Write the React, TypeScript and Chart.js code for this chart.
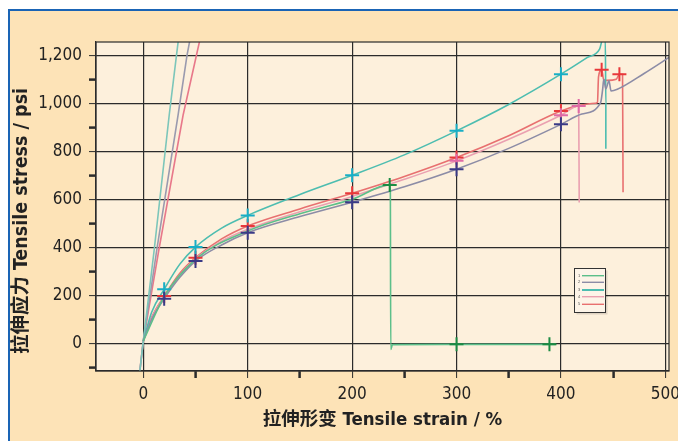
import React, { useEffect, useRef } from 'react';
import { Chart, registerables } from 'chart.js';

Chart.register(...registerables);

// Axis ticks
const xTickValues = [0, 50, 100, 150, 200, 250, 300, 350, 400, 450, 500];
const yTickValues = [-100, 0, 100, 200, 300, 400, 500, 600, 700, 800, 900, 1000, 1100, 1200];

const legendLabels = ['1', '2', '3', '4', '5'];

// Series 1 (green)
const s1Strain = [0, 20, 50, 100, 150, 200, 235.8, 236.6, 237, 238.7, 300, 395];
const s1Stress = [10, 195, 350, 468, 540, 600, 660, 640, -25, -5, -4, -4];
const s1MarkStrain = [236, 300, 389];
const s1MarkStress = [660, -4, -4];

// Series 2 (grey)
const s2Strain = [0, 8, 20, 35, 50, 75, 100, 150, 200, 250, 300, 350, 400, 420, 438, 440, 441, 443, 446, 448, 454, 480, 505];
const s2Stress = [10, 100, 186, 275, 343, 410, 461, 528, 588, 652, 725, 812, 912, 955, 1003, 1060, 1100, 1060, 1093, 1051, 1058, 1125, 1195];
const s2MarkStrain = [20, 50, 100, 200, 300, 400];
const s2MarkStress = [186, 343, 461, 588, 725, 912];

// Series 3 (teal)
const s3Strain = [0, 8, 20, 35, 50, 75, 100, 150, 200, 250, 300, 350, 400, 425, 437, 440, 442.5, 443, 443];
const s3Stress = [10, 130, 225, 330, 401, 480, 533, 620, 700, 785, 885, 995, 1121, 1190, 1225, 1265, 1265, 1000, 810];
const s3MarkStrain = [20, 50, 100, 200, 300, 400];
const s3MarkStress = [225, 401, 533, 700, 885, 1121];

// Series 4 (pink)
const s4Strain = [0, 8, 20, 35, 50, 75, 100, 150, 200, 250, 300, 350, 400, 417, 417.5];
const s4Stress = [10, 105, 192, 285, 352, 425, 475, 548, 612, 683, 760, 850, 950, 989, 587];
const s4MarkStrain = [300, 400, 417];
const s4MarkStress = [760, 950, 989];

// Series 5 (red)
const s5Strain = [0, 8, 20, 35, 50, 75, 100, 150, 200, 250, 300, 350, 400, 417, 433, 435, 436, 439, 441, 444, 453, 456, 459, 459.5];
const s5Stress = [10, 108, 197, 292, 357, 435, 489, 560, 625, 695, 774, 865, 968, 990, 1000, 1004, 1110, 1139, 1098, 1095, 1100, 1121, 1121, 629];
const s5MarkStrain = [20, 50, 100, 200, 300, 400, 439, 456];
const s5MarkStress = [197, 357, 489, 625, 774, 968, 1139, 1121];

// Steep initial lines
const steepTealStrain = [-3.3, 0, 10.5, 24.8, 31.8, 33.5];
const steepTealStress = [-115, 10, 392, 950, 1200, 1260];
const steepGreyStrain = [-3.3, 0, 13, 33.3, 41.9, 44.5];
const steepGreyStress = [-115, 10, 392, 950, 1200, 1260];
const steepRedStrain = [-3.3, 0, 15, 38.1, 50.9, 54];
const steepRedStress = [-115, 10, 392, 950, 1200, 1260];

const lineColors = ['#5cbf8a', '#8c8ca6', '#4dbdb0', '#eaa0b0', '#e87070'];
const markColors = ['#1c8c44', '#3a3a86', '#18aec6', '#e06aa6', '#e8383a'];

const pts = (xs: number[], ys: number[]) => xs.map((x, i) => ({ x, y: ys[i] }));

const DARK = '#2b2b2b';
const NARROW = "'Liberation Sans Narrow', 'DejaVu Sans Condensed', 'Noto Sans CJK SC', sans-serif";

export default function App() {
  const ref = useRef<HTMLCanvasElement | null>(null);

  useEffect(() => {
    if (!ref.current) return;

    const curves = [
      { s: s1Strain, y: s1Stress, c: lineColors[0] },
      { s: s2Strain, y: s2Stress, c: lineColors[1] },
      { s: s3Strain, y: s3Stress, c: lineColors[2] },
      { s: s4Strain, y: s4Stress, c: lineColors[3] },
      { s: s5Strain, y: s5Stress, c: lineColors[4] },
    ];
    const marks = [
      { s: s1MarkStrain, y: s1MarkStress, c: markColors[0] },
      { s: s2MarkStrain, y: s2MarkStress, c: markColors[1] },
      { s: s3MarkStrain, y: s3MarkStress, c: markColors[2] },
      { s: s4MarkStrain, y: s4MarkStress, c: markColors[3] },
      { s: s5MarkStrain, y: s5MarkStress, c: markColors[4] },
    ];
    const steep = [
      { s: steepTealStrain, y: steepTealStress, c: '#7cc6ba' },
      { s: steepGreyStrain, y: steepGreyStress, c: '#9a9aae' },
      { s: steepRedStrain, y: steepRedStress, c: '#e8788a' },
    ];

    const datasets: any[] = [];
    marks.forEach((m, i) =>
      datasets.push({
        label: 'mark' + (i + 1),
        data: pts(m.s, m.y),
        showLine: false,
        pointStyle: 'cross',
        pointRadius: 7,
        pointBorderWidth: 2,
        pointBorderColor: m.c,
        pointBackgroundColor: m.c,
        borderColor: m.c,
      })
    );
    curves.forEach((c, i) =>
      datasets.push({
        label: legendLabels[i],
        data: pts(c.s, c.y),
        borderColor: c.c,
        borderWidth: 1.6,
        pointRadius: 0,
        cubicInterpolationMode: 'monotone',
      })
    );
    steep.forEach((c, i) =>
      datasets.push({
        label: 'steep' + (i + 1),
        data: pts(c.s, c.y),
        borderColor: c.c,
        borderWidth: 1.6,
        pointRadius: 0,
        tension: 0,
      })
    );

    const decor = {
      id: 'decor',
      beforeDraw(chart: any) {
        const { ctx, chartArea: a } = chart;
        ctx.save();
        ctx.fillStyle = '#fdf0dc';
        ctx.fillRect(a.left, a.top, a.right - a.left, a.bottom - a.top);
        ctx.restore();
      },
      afterDraw(chart: any) {
        const { ctx, chartArea: a } = chart;
        ctx.save();
        ctx.strokeStyle = DARK;
        ctx.lineWidth = 1.2;
        ctx.strokeRect(a.left, a.top, a.right - a.left, a.bottom - a.top);

        // legend box
        const bx = 574.5, by = 268.5, bw = 31, bh = 44;
        ctx.fillStyle = 'rgba(0,0,0,0.12)';
        ctx.fillRect(bx + 2, by + 2, bw, bh);
        ctx.fillStyle = '#fdf4e8';
        ctx.fillRect(bx, by, bw, bh);
        ctx.strokeStyle = '#333';
        ctx.lineWidth = 1;
        ctx.strokeRect(bx, by, bw, bh);
        const rows = [275.7, 282.3, 290, 296.7, 304.3];
        ctx.font = '4px sans-serif';
        ctx.textBaseline = 'middle';
        ctx.textAlign = 'left';
        legendLabels.forEach((lab, i) => {
          ctx.fillStyle = '#555';
          ctx.fillText(lab, 578, rows[i]);
          ctx.strokeStyle = lineColors[i];
          ctx.lineWidth = i === 2 ? 2 : 1.4;
          ctx.beginPath();
          ctx.moveTo(582, rows[i]);
          ctx.lineTo(604, rows[i]);
          ctx.stroke();
        });

        // y axis title
        ctx.translate(22, 221);
        ctx.rotate(-Math.PI / 2);
        ctx.fillStyle = '#222';
        ctx.font = "bold 19.5px " + NARROW;
        ctx.textAlign = 'center';
        ctx.textBaseline = 'middle';
        ctx.fillText('拉伸应力 Tensile stress / psi', 0, 0);
        ctx.restore();
      },
    };

    const chart = new Chart(ref.current, {
      type: 'line',
      data: { datasets },
      options: {
        responsive: false,
        animation: false,
        layout: { padding: { top: 42, right: 6, left: 0, bottom: 0 } },
        plugins: { legend: { display: false }, tooltip: { enabled: false } },
        scales: {
          x: {
            type: 'linear',
            min: -45.3,
            max: 503.5,
            afterBuildTicks: (s: any) => { s.ticks = xTickValues.map((v) => ({ value: v })); },
            afterFit: (s: any) => { s.height = 70; s.paddingLeft = 0; s.paddingRight = 0; },
            ticks: {
              autoSkip: false,
              maxRotation: 0,
              padding: 6,
              color: '#222',
              font: { family: NARROW, size: 17 },
              callback: (v: any) => (Number(v) % 100 === 0 ? String(v) : ''),
            },
            grid: {
              color: (c: any) => (c.tick && c.tick.value % 100 === 0 ? DARK : 'rgba(0,0,0,0)'),
              tickColor: DARK,
              tickWidth: (c: any) => (c.tick && c.tick.value % 100 === 0 ? 1 : 2.5),
              tickLength: 7,
              lineWidth: 1.2,
            },
            border: { display: true, color: DARK, width: 1.2 },
            title: {
              display: true,
              text: '拉伸形变 Tensile strain / %',
              color: '#222',
              font: { family: NARROW, size: 18.5, weight: 'bold' },
              padding: { top: 0, bottom: 10 },
            },
          },
          y: {
            type: 'linear',
            min: -115,
            max: 1255,
            afterBuildTicks: (s: any) => { s.ticks = yTickValues.map((v) => ({ value: v })); },
            afterFit: (s: any) => { s.width = 96; s.paddingTop = 0; s.paddingBottom = 0; },
            ticks: {
              autoSkip: false,
              padding: 7,
              color: '#222',
              font: { family: NARROW, size: 17 },
              callback: (v: any) => (Number(v) % 200 === 0 ? Number(v).toLocaleString('en-US') : ''),
            },
            grid: {
              color: (c: any) => (c.tick && c.tick.value % 200 === 0 ? DARK : 'rgba(0,0,0,0)'),
              tickColor: DARK,
              tickWidth: (c: any) => (c.tick && c.tick.value % 200 === 0 ? 1 : 2.5),
              tickLength: 7,
              lineWidth: 1.2,
            },
            border: { display: true, color: DARK, width: 1.2 },
          },
        },
      },
      plugins: [decor],
    } as any);

    return () => chart.destroy();
  }, []);

  return (
    <div style={{ position: 'fixed', left: 0, top: 0, width: 678, height: 441, background: '#fff', overflow: 'hidden' }}>
      <div
        style={{
          position: 'absolute',
          left: 8,
          top: 9,
          right: 0,
          bottom: 0,
          background: '#fde3b7',
          borderLeft: '2px solid #1a64b5',
          borderTop: '2px solid #1a64b5',
        }}
      />
      <canvas ref={ref} width={678} height={441} style={{ position: 'absolute', left: 0, top: 0, width: 678, height: 441 }} />
    </div>
  );
}
